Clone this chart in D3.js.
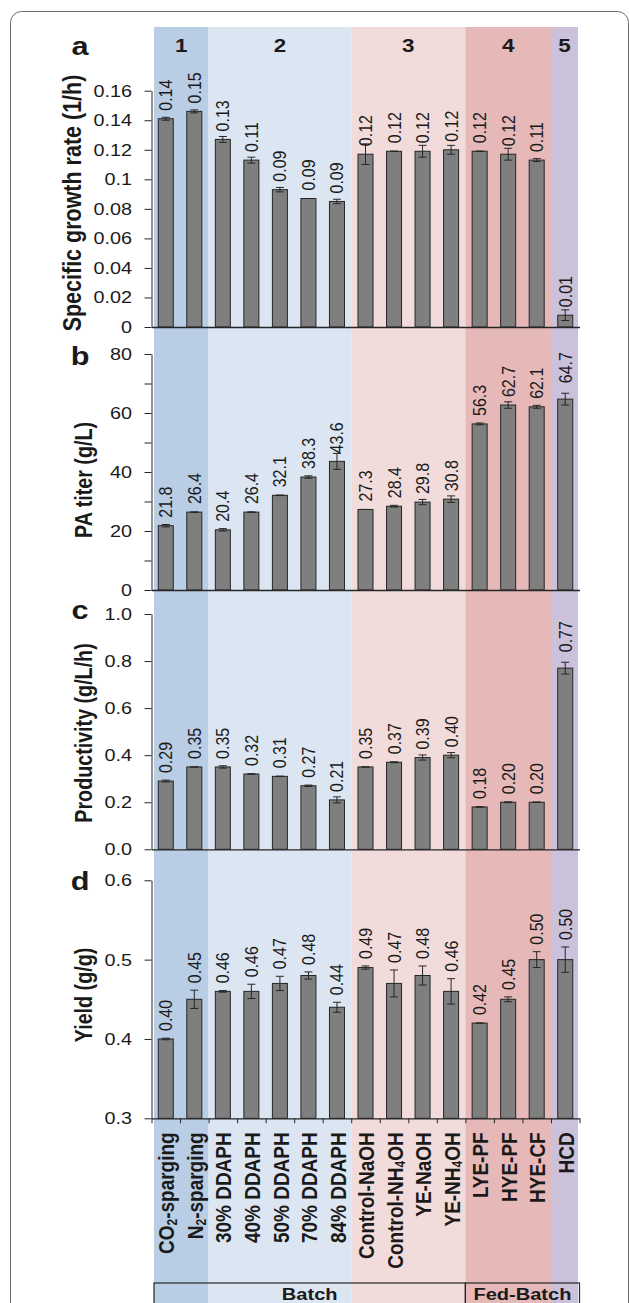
<!DOCTYPE html>
<html lang="en">
<head>
    <meta charset="utf-8">
    <title>Fermentation summary</title>
    <script src="https://cdnjs.cloudflare.com/ajax/libs/d3/7.8.5/d3.min.js"></script>
    <style>
        body { margin: 0; background: #fff; }
        svg text { font-family: "Liberation Sans", Arial, Helvetica, sans-serif; fill: #1a1a1a; }
        .axis path, .axis line { stroke: #262626; }
    </style>
</head>
<body>
<svg id="chart"></svg>

<script>
    // categories along the x axis
    const categories = ["CO2-sparging", "N2-sparging", "30% DDAPH", "40% DDAPH", "50% DDAPH",
        "70% DDAPH", "84% DDAPH", "Control-NaOH", "Control-NH4OH", "YE-NaOH", "YE-NH4OH",
        "LYE-PF", "HYE-PF", "HYE-CF", "HCD"];

    // shaded groups (1-5) and the bottom boxes
    const groupNames = ["1", "2", "3", "4", "5"];
    const groupSizes = [2, 5, 4, 3, 1];
    const groupColors = ["#b9cde5", "#dce6f2", "#f2dcdb", "#e6b9b8", "#ccc1da"];
    const phaseNames = ["Batch", "Fed-Batch"];
    const phaseSizes = [11, 4];

    // a: specific growth rate (1/h)
    const growthRate = [0.141, 0.146, 0.127, 0.113, 0.093, 0.087, 0.085, 0.117, 0.119, 0.119, 0.120, 0.119, 0.117, 0.113, 0.008];
    const growthErr  = [0.001, 0.001, 0.002, 0.002, 0.0015, 0, 0.0015, 0.007, 0, 0.004, 0.003, 0, 0.004, 0.001, 0.0036];

    // b: PA titer (g/L)
    const titer    = [21.8, 26.4, 20.4, 26.4, 32.1, 38.3, 43.6, 27.3, 28.4, 29.8, 30.8, 56.3, 62.7, 62.1, 64.7];
    const titerErr = [0.4, 0.1, 0.4, 0.1, 0.1, 0.4, 2.7, 0, 0.3, 0.9, 1.1, 0.3, 1.1, 0.5, 2.0];

    // c: productivity (g/L/h)
    const productivity = [0.29, 0.35, 0.35, 0.32, 0.31, 0.27, 0.21, 0.35, 0.37, 0.39, 0.40, 0.18, 0.20, 0.20, 0.77];
    const prodErr      = [0.004, 0, 0.005, 0.001, 0.001, 0.003, 0.013, 0, 0.002, 0.011, 0.011, 0.001, 0.002, 0.001, 0.025];

    // d: yield (g/g)
    const yieldVals = [0.40, 0.45, 0.46, 0.46, 0.47, 0.48, 0.44, 0.49, 0.47, 0.48, 0.46, 0.42, 0.45, 0.50, 0.50];
    const yieldErr  = [0.001, 0.0115, 0.001, 0.009, 0.009, 0.0045, 0.0063, 0.002, 0.017, 0.012, 0.016, 0, 0.003, 0.01, 0.016];

    const W = 629, H = 1303;
    const SX = 1.18;   // the original figure is stretched sideways a little

    const svg = d3.select("#chart").attr("width", W).attr("height", H);

    // outer frame
    svg.append("rect")
        .attr("x", 10.5).attr("y", 11.5)
        .attr("width", 618).attr("height", 1330)
        .attr("rx", 11)
        .attr("fill", "none")
        .attr("stroke", "#6b6b6b");

    var x = d3.scaleBand()
        .domain(categories)
        .range([151.5, 579.5])
        .paddingInner(0.474)
        .paddingOuter(0.237);
    // slot boundaries (for group shading and tick marks)
    var xb = d3.scaleLinear().domain([0, categories.length]).range(x.range());

    // group shading
    let start = 0;
    groupSizes.forEach(function(n, i) {
        var x0 = i === 0 ? xb(0) + 2.5 : xb(start);
        var x1 = i === groupSizes.length - 1 ? xb(start + n) - 1.5 : xb(start + n);
        svg.append("rect")
            .attr("x", x0).attr("y", 27)
            .attr("width", x1 - x0).attr("height", H - 27)
            .attr("fill", groupColors[i]);
        svg.append("text")
            .attr("transform", "translate(" + ((x0 + x1) / 2) + ",52) scale(" + SX + ",1)")
            .attr("text-anchor", "middle")
            .attr("font-size", 19)
            .attr("font-weight", "bold")
            .text(groupNames[i]);
        start += n;
    });

    // bottom boxes
    start = 0;
    phaseSizes.forEach(function(n, i) {
        var x0 = i === 0 ? xb(0) + 2.5 : xb(start);
        var x1 = xb(start + n);
        svg.append("rect")
            .attr("x", x0).attr("y", 1283)
            .attr("width", x1 - x0).attr("height", 40)
            .attr("fill", "none")
            .attr("stroke", "#262626")
            .attr("stroke-width", 1.2);
        svg.append("text")
            .attr("transform", "translate(" + ((x0 + x1) / 2) + ",1300) scale(" + SX + ",1)")
            .attr("text-anchor", "middle")
            .attr("font-size", 17)
            .attr("font-weight", "bold")
            .text(phaseNames[i]);
        start += n;
    });

    // label gap above the bar: plain offset, or clear of the error bar
    const n = categories.length;
    const gapBar = () => 8;
    const gapErr = (i, e) => Math.max(8, e + 7);
    const gapLast = (i, e) => i === n - 1 ? e + 10 : 8;

    const panels = [
        {letter: "a", vals: growthRate, errs: growthErr, domain: [0, 0.16], y0: 327, y1: 90.7,
         ticks: d3.range(0, 0.161, 0.02), tickFmt: d => String(+d.toFixed(2)), valFmt: d3.format(".2f"),
         title: "Specific growth rate (1/h)", titleSize: 21.5, titleX: 81, titleY: 203, letterY: 55, gap: gapBar},
        {letter: "b", vals: titer, errs: titerErr, domain: [0, 80], y0: 590, y1: 354,
         ticks: d3.range(0, 81, 10), tickFmt: d => d % 20 === 0 ? d : "", valFmt: d3.format(".1f"),
         title: "PA titer (g/L)", titleSize: 19.7, titleX: 92, titleY: 480, letterY: 365, gap: gapLast},
        {letter: "c", vals: productivity, errs: prodErr, domain: [0, 1], y0: 849.3, y1: 614,
         ticks: d3.range(0, 1.01, 0.2), tickFmt: d3.format(".1f"), valFmt: d3.format(".2f"),
         title: "Productivity (g/L/h)", titleSize: 19.7, titleX: 92, titleY: 733, letterY: 619, gap: gapLast},
        {letter: "d", vals: yieldVals, errs: yieldErr, domain: [0.3, 0.6], y0: 1118.3, y1: 880.3,
         ticks: [0.3, 0.4, 0.5, 0.6], tickFmt: d3.format(".1f"), valFmt: d3.format(".2f"),
         title: "Yield (g/g)", titleSize: 19.7, titleX: 92, titleY: 995, letterY: 890, gap: gapErr}
    ];

    panels.forEach(function(p, pi) {
        var y = d3.scaleLinear().domain(p.domain).range([p.y0, p.y1]);
        var g = svg.append("g");
        var last = pi === panels.length - 1;
        var cx = i => x(categories[i]) + x.bandwidth() / 2;

        // bars
        g.selectAll(".bar")
            .data(p.vals)
            .enter().append("rect")
            .attr("class", "bar")
            .attr("x", (d, i) => x(categories[i]))
            .attr("width", x.bandwidth())
            .attr("y", d => y(d))
            .attr("height", d => y(p.domain[0]) - y(d))
            .attr("fill", "#7f7f7f")
            .attr("stroke", "#262626")
            .attr("stroke-width", 1);

        // error bars
        var eb = g.selectAll(".err")
            .data(p.vals)
            .enter().append("g")
            .attr("class", "err")
            .attr("stroke", "#262626")
            .attr("stroke-width", 1);
        eb.append("line")
            .attr("x1", (d, i) => cx(i))
            .attr("x2", (d, i) => cx(i))
            .attr("y1", (d, i) => y(d - p.errs[i]))
            .attr("y2", (d, i) => y(d + p.errs[i]));
        [-1, 1].forEach(function(s) {
            eb.append("line")
                .attr("x1", (d, i) => cx(i) - 4)
                .attr("x2", (d, i) => cx(i) + 4)
                .attr("y1", (d, i) => y(d + s * p.errs[i]))
                .attr("y2", (d, i) => y(d + s * p.errs[i]));
        });

        // value labels
        g.selectAll(".val")
            .data(p.vals)
            .enter().append("text")
            .attr("class", "val")
            .attr("transform", function(d, i) {
                var ePx = y(d) - y(d + p.errs[i]);
                return "translate(" + cx(i) + "," + (y(d) - p.gap(i, ePx)) +
                    ") scale(" + SX + ",1) rotate(-90)";
            })
            .attr("dominant-baseline", "central")
            .attr("font-size", 16)
            .text(d => p.valFmt(d));

        // x axis line (ticks only on the last panel)
        var xa = g.append("g")
            .attr("class", "axis")
            .attr("transform", "translate(0," + p.y0 + ")")
            .call(d3.axisBottom(xb)
                .tickValues(last ? d3.range(0, n + 1) : [])
                .tickSize(last ? 5 : 0)
                .tickSizeOuter(0)
                .tickFormat(""));
        xa.select(".domain").attr("stroke-width", 1.3);

        // y axis
        var ya = g.append("g")
            .attr("class", "axis")
            .attr("transform", "translate(" + x.range()[0] + ",0)")
            .call(d3.axisLeft(y)
                .tickValues(p.ticks)
                .tickSize(7)
                .tickPadding(9.5)
                .tickSizeOuter(0)
                .tickFormat(p.tickFmt));
        ya.selectAll(".tick text")
            .attr("font-size", 16.8)
            .attr("font-family", null)
            .attr("fill", "#1a1a1a")
            .attr("transform", "scale(" + SX + ",1)");

        // axis title (baseline at titleX)
        g.append("text")
            .attr("transform", "translate(" + p.titleX + "," + p.titleY + ") scale(" + SX + ",1) rotate(-90)")
            .attr("text-anchor", "middle")
            .attr("font-size", p.titleSize)
            .attr("font-weight", "bold")
            .text(p.title);

        // panel letter
        g.append("text")
            .attr("transform", "translate(80," + p.letterY + ") scale(" + SX + ",1)")
            .attr("text-anchor", "middle")
            .attr("font-size", 26)
            .attr("font-weight", "bold")
            .text(p.letter);
    });

    // category labels, digits after a capital become subscripts
    const yAxisBottom = panels[panels.length - 1].y0;
    svg.selectAll(".cat")
        .data(categories)
        .enter().append("text")
        .attr("class", "cat")
        .attr("transform", d => "translate(" + (x(d) + x.bandwidth() / 2) + "," + (yAxisBottom + 14) +
            ") scale(" + SX + ",1) rotate(-90)")
        .attr("text-anchor", "end")
        .attr("dominant-baseline", "central")
        .attr("font-size", 19)
        .attr("font-weight", "bold")
        .each(function(d) {
            var t = d3.select(this);
            var parts = d.split(/(?<=[A-Z])(\d)/);
            var shifted = false;
            parts.forEach(function(s, k) {
                if (s === "") return;
                var ts = t.append("tspan").text(s);
                if (k % 2 === 1) {
                    ts.attr("font-size", 12).attr("dy", 5);
                    shifted = true;
                } else if (shifted) {
                    ts.attr("dy", -5);
                    shifted = false;
                }
            });
        });
</script>
</body>
</html>
